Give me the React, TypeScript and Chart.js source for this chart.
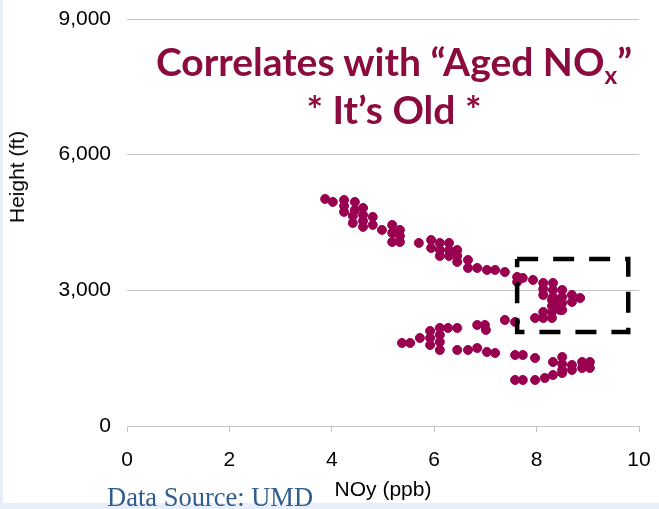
import React, { useEffect, useRef } from "react";
import { Chart, registerables } from "chart.js";

Chart.register(...registerables);

// NOy (ppb) values
const noyPpb = [
  3.87, 4.02, 4.24, 4.24, 4.24, 4.45, 4.45, 4.41, 4.41, 4.61, 4.61, 4.61, 4.61,
  4.8, 4.8, 4.98, 5.18, 5.18, 5.18, 5.33, 5.33, 5.33, 5.7, 5.94, 5.94, 6.11,
  6.11, 6.11, 6.29, 6.29, 6.29, 6.45, 6.45, 6.45, 6.66, 6.66, 6.84, 7.03, 7.19,
  7.38, 7.62, 7.62, 7.73, 7.93, 8.13, 8.13, 8.13, 8.32, 8.32, 8.32, 8.5, 8.5,
  8.5, 8.5, 8.69, 8.69, 8.85,
  7.97, 8.13, 8.13, 8.3, 8.3, 8.3, 8.3, 8.46, 8.46, 7.38, 7.58, 6.99, 7.01,
  6.84, 6.45, 6.27, 6.11, 6.11, 6.11, 6.11, 5.92, 5.92, 5.92, 5.72, 5.53, 5.37,
  6.45, 6.66, 6.84, 7.03, 7.19, 7.58, 7.73, 7.97, 8.32, 8.5, 8.5, 8.5, 8.69,
  8.89, 9.04, 9.04, 8.89,
  7.58, 7.73, 7.97, 8.16, 8.32, 8.5, 8.69,
];
// Height (ft) values
const heightFt = [
  5021, 4955, 4999, 4866, 4734, 4955, 4778, 4645, 4490, 4822, 4667, 4535, 4402,
  4623, 4446, 4336, 4446, 4269, 4070, 4336, 4203, 4070, 4048, 4114, 3937, 4048,
  3893, 3760, 4048, 3893, 3760, 3893, 3760, 3628, 3672, 3495, 3495, 3451, 3451,
  3406, 3296, 3185, 3274, 3230, 3163, 3030, 2898, 3163, 3008, 2854, 3008, 2854,
  2721, 2566, 2898, 2743, 2831,
  2389, 2522, 2389, 2787, 2654, 2522, 2389, 2743, 2566, 2345, 2300, 2234, 2124,
  2234, 2168, 2168, 2168, 2013, 1858, 1681, 2101, 1947, 1792, 1947, 1836, 1836,
  1681, 1681, 1725, 1637, 1615, 1570, 1570, 1504, 1416, 1526, 1371, 1239, 1349,
  1416, 1416, 1283, 1283,
  1018, 1018, 1018, 1062, 1128, 1172, 1239,
];

// Dashed highlight box corners (data units)
const boxNoy = [7.62, 9.79, 9.79, 7.62, 7.62];
const boxHeight = [3694, 3694, 2078, 2078, 3694];

const xAxisMin = 0;
const xAxisMax = 10;
const xAxisStep = 2;
const yAxisMin = 0;
const yAxisMax = 9000;
const yAxisStep = 3000;

const titleLine1 = "Correlates with \u201CAged NO";
const titleSub = "x";
const titleEnd = "\u201D";
const titleLine2 = "* It\u2019s Old *";
const yTitle = "Height (ft)";
const xTitle = "NOy (ppb)";
const sourceText = "Data Source: UMD";

const pointColor = "#990050";
const titleColor = "#8C0B3E";

export default function App() {
  const canvasRef = useRef<HTMLCanvasElement | null>(null);

  useEffect(() => {
    if (!canvasRef.current) return;
    const pts = noyPpb.map((x, i) => ({ x, y: heightFt[i] }));
    const box = boxNoy.map((x, i) => ({ x, y: boxHeight[i] }));
    const chart = new Chart(canvasRef.current, {
      type: "scatter",
      data: {
        datasets: [
          {
            label: "box",
            data: box,
            showLine: true,
            borderColor: "#000000",
            borderWidth: 4.5,
            borderDash: [21, 15],
            pointRadius: 0,
            fill: false,
            order: 0,
          },
          {
            label: "NOy",
            data: pts,
            backgroundColor: pointColor,
            borderColor: pointColor,
            borderWidth: 1,
            pointRadius: 4.5,
            order: 1,
          },
        ],
      },
      options: {
        animation: false,
        responsive: false,
        maintainAspectRatio: false,
        layout: { padding: { left: 0, right: 20, top: 19, bottom: 0 } },
        plugins: {
          legend: { display: false },
          tooltip: { enabled: false },
          title: { display: false },
        },
        scales: {
          x: {
            type: "linear",
            min: xAxisMin,
            max: xAxisMax,
            ticks: {
              stepSize: xAxisStep,
              color: "#000",
              font: { family: "Liberation Sans", size: 21 },
              padding: 16,
              maxRotation: 0,
            },
            grid: {
              drawOnChartArea: false,
              drawTicks: true,
              tickLength: 6,
              color: "#c4c4c4",
            },
            border: { display: true, color: "#c4c4c4", width: 1 },
            title: {
              display: true,
              text: xTitle,
              color: "#000",
              font: { family: "Liberation Sans", size: 21 },
              padding: { top: 0, bottom: 6 },
            },
            afterFit: (scale: any) => {
              scale.height = 83;
              scale.paddingLeft = 0;
              scale.paddingRight = 0;
            },
          },
          y: {
            type: "linear",
            min: yAxisMin,
            max: yAxisMax,
            ticks: {
              stepSize: yAxisStep,
              color: "#000",
              font: { family: "Liberation Sans", size: 21 },
              padding: 16,
              callback: (v: any) => Number(v).toLocaleString("en-US"),
            },
            grid: { drawTicks: false, color: "#c4c4c4" },
            border: { display: false },
            afterFit: (scale: any) => {
              scale.width = 127;
              scale.paddingTop = 0;
              scale.paddingBottom = 0;
            },
          },
        },
      },
    });
    return () => chart.destroy();
  }, []);

  return (
    <div
      style={{
        position: "fixed",
        left: 0,
        top: 0,
        width: 659,
        height: 509,
        background: "#ffffff",
        overflow: "hidden",
      }}
    >
      <div style={{ position: "absolute", left: 0, top: 0, width: 3, height: 509, background: "#E8EEF9" }} />
      <div style={{ position: "absolute", left: 0, top: 503, width: 659, height: 6, background: "#E8EEF9" }} />
      <canvas
        ref={canvasRef}
        width={659}
        height={509}
        style={{ position: "absolute", left: 0, top: 0, width: 659, height: 509 }}
      />
      <div
        style={{
          position: "absolute",
          left: 17,
          top: 177,
          transform: "translate(-50%, -50%) rotate(-90deg)",
          fontFamily: "Liberation Sans",
          fontSize: 21,
          color: "#000",
          whiteSpace: "nowrap",
          lineHeight: "24px",
        }}
      >
        {yTitle}
      </div>
      <div
        style={{
          position: "absolute",
          left: 394,
          top: 40,
          transform: "translateX(-50%)",
          fontFamily: "Lato",
          fontWeight: 700,
          fontSize: 39,
          lineHeight: "43px",
          color: titleColor,
          textAlign: "center",
          whiteSpace: "nowrap",
        }}
      >
        <div>
          {titleLine1}
          <span style={{ fontSize: "0.62em", position: "relative", top: "0.35em" }}>{titleSub}</span>
          {titleEnd}
        </div>
        <div>{titleLine2}</div>
      </div>
      <div
        style={{
          position: "absolute",
          left: 107,
          top: 482,
          fontFamily: "Liberation Serif",
          fontSize: 26.5,
          lineHeight: "30px",
          color: "#2F5D8E",
          whiteSpace: "nowrap",
        }}
      >
        {sourceText}
      </div>
    </div>
  );
}
